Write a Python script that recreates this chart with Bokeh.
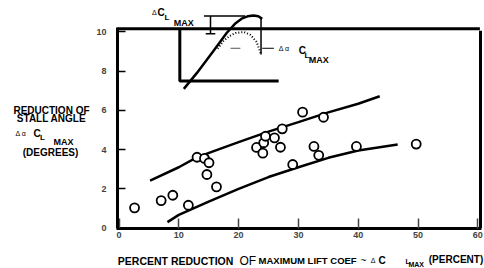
from bokeh.plotting import figure
from bokeh.models import Range1d, FixedTicker, Label
from bokeh.embed import file_html
from bokeh.resources import INLINE

# ---- data ----
pct_reduction = [2.6, 7.05, 9.0, 11.6, 13.05, 14.3, 15.05, 14.7, 16.3, 23.0, 24.05, 24.2,
                 24.5, 26.0, 27.0, 27.3, 29.05, 30.7, 32.6, 33.4, 34.2, 39.7, 49.7]
stall_reduction = [1.03, 1.40, 1.67, 1.16, 3.61, 3.55, 3.33, 2.73, 2.10, 4.11, 3.82, 4.35,
                   4.68, 4.60, 4.12, 5.06, 3.24, 5.91, 4.16, 3.71, 5.65, 4.16, 4.28]

upper_x = [5.2, 10, 13, 17, 20, 25, 30, 35, 40, 43.6]
upper_y = [2.42, 3.1, 3.6, 4.05, 4.38, 4.92, 5.4, 5.9, 6.34, 6.72]
lower_x = [8.1, 10, 15, 20, 25, 30, 35, 40, 46.6]
lower_y = [0.30, 0.67, 1.35, 2.0, 2.6, 3.1, 3.58, 3.95, 4.26]

# inset sketch (lift curve)
solid_x = [10.84, 13.0, 15.85, 18.0, 19.5, 20.5, 21.5, 22.5, 23.3, 23.95]
solid_y = [7.10, 7.9, 9.06, 9.95, 10.45, 10.68, 10.8, 10.84, 10.8, 10.67]
dotted_x = [16.5, 17.5, 18.5, 19.5, 20.9, 22.0, 23.0, 23.7]
dotted_y = [9.15, 9.55, 9.8, 9.95, 10.0, 9.85, 9.5, 8.9]

x_ticks = [0, 10, 20, 30, 40, 50, 60]
y_ticks = [0, 2, 4, 6, 8, 10]

FONT = "Liberation Sans"
TOP = 10.16
RIGHT = 60.45
LEFT = -0.25

p = figure(width=484, height=268, x_range=Range1d(-19.816, 61.12), y_range=Range1d(-2.066, 11.607),
           output_backend="svg", toolbar_location=None,
           min_border_left=0, min_border_right=0, min_border_top=0, min_border_bottom=0)
p.title.visible = False
p.outline_line_color = None
p.grid.visible = False
p.background_fill_color = "white"
p.border_fill_color = "white"

# axes drawn at fixed locations inside the full-canvas frame
xa = p.xaxis[0]
xa.fixed_location = 0
xa.ticker = FixedTicker(ticks=x_ticks)
xa.bounds = (LEFT - 0.2, RIGHT + 0.2)
xa.axis_line_width = 3
xa.axis_line_color = "black"
xa.major_tick_in = 10
xa.major_tick_out = 0
xa.major_tick_line_width = 1.5
xa.major_tick_line_color = "#444444"
xa.minor_tick_line_color = None
xa.major_label_text_font = FONT
xa.major_label_text_font_style = "bold"
xa.major_label_text_font_size = "9px"
xa.major_label_standoff = 4

ya = p.yaxis[0]
ya.fixed_location = LEFT
ya.ticker = FixedTicker(ticks=y_ticks)
ya.bounds = (-0.05, TOP + 0.05)
ya.axis_line_width = 3
ya.axis_line_color = "black"
ya.major_tick_in = 8
ya.major_tick_out = 0
ya.major_tick_line_width = 1.5
ya.major_tick_line_color = "black"
ya.minor_tick_line_color = None
ya.major_label_text_font = FONT
ya.major_label_text_font_style = "bold"
ya.major_label_text_font_size = "9px"
ya.major_label_standoff = 11

# frame top & right
p.line([LEFT, RIGHT - 0.1], [TOP, TOP], line_width=3, line_color="black")
p.line([RIGHT, RIGHT], [0, TOP - 0.1], line_width=3, line_color="black")

# band curves
p.line(upper_x, upper_y, line_width=2.5, line_color="black")
p.line(lower_x, lower_y, line_width=2.5, line_color="black")

# data points
p.scatter(pct_reduction, stall_reduction, size=9, marker="circle",
          fill_color="white", line_color="black", line_width=1.8)

# inset sketch
p.line([10.17, 10.17, 26.7], [TOP, 7.5, 7.5], line_width=3, line_color="black")
p.line(solid_x, solid_y, line_width=2.5, line_color="black")
p.line(dotted_x, dotted_y, line_width=2, line_color="black", line_dash="1 2")
p.line([14.2, 21.1], [10.81, 10.81], line_width=1.5, line_color="black")
p.line([15.3, 15.3], [10.81, 9.91], line_width=1.5, line_color="black")
p.line([14.5, 16.1], [9.91, 9.91], line_width=1.5, line_color="black")
p.line([23.75, 23.75], [10.7, 8.85], line_width=1.5, line_color="black")
p.line([23.95, 25.9], [9.17, 9.17], line_width=1, line_color="black")
p.line([18.65, 20.3], [9.17, 9.17], line_width=1, line_color="#555555")


def lab(x, y, text, size="10px", style="bold", align="left", font=FONT, color="black"):
    p.add_layout(Label(x=x, y=y, text=text, text_font=font, text_font_size=size,
                       text_font_style=style, text_align=align, text_baseline="middle",
                       text_color=color))


# inset annotations
lab(5.52, 11.0, "Δ", size="7px", style="normal")
lab(6.44, 11.0, "C", size="10px")
lab(7.6, 10.74, "L", size="8px")
lab(9.16, 10.47, "MAX", size="9px")
lab(26.7, 9.16, "Δ α", size="7px", style="normal")
lab(30.07, 9.06, "C", size="10px")
lab(31.0, 8.8, "L", size="8px")
lab(31.74, 8.55, "MAX", size="9px")

# y-axis title
lab(-11.29, 6.0, "REDUCTION OF", align="center")
lab(-11.29, 5.59, "STALL ANGLE", align="center")
lab(-17.3, 4.82, "Δ α", size="7px", style="normal")
lab(-14.3, 4.82, "C", size="10px")
lab(-13.2, 4.6, "L", size="8px")
lab(-10.95, 4.38, "MAX", size="9px")
lab(-11.45, 3.87, "(DEGREES)", align="center")

# x-axis title
lab(-0.2, -1.66, "PERCENT REDUCTION", size="10.5px")
lab(20.15, -1.66, "OF", size="12px", style="normal")
lab(23.33, -1.66, "MAXIMUM LIFT COEF", size="9.5px")
lab(40.4, -1.66, "~", size="10px", style="normal")
lab(42.1, -1.66, "Δ", size="7px", style="normal")
lab(43.4, -1.66, "C", size="10px")
lab(47.9, -1.72, "L", size="7px")
lab(48.4, -1.86, "MAX", size="7px")
lab(51.8, -1.59, "(PERCENT)", size="10px")

open("out.html", "w").write(file_html(p, INLINE))
